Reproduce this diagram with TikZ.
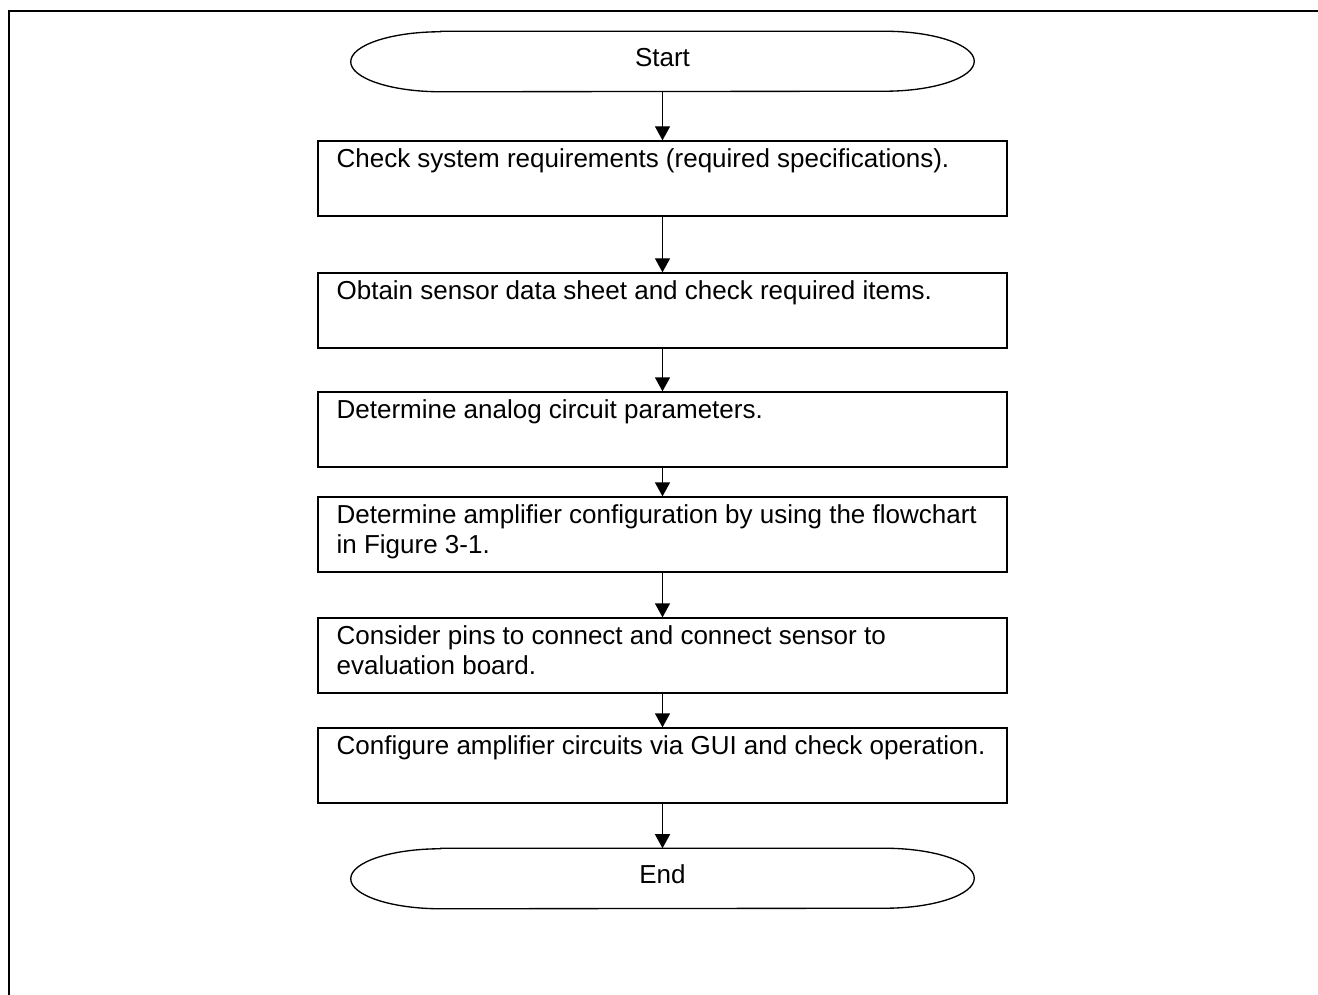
\documentclass[tikz,border=0pt]{standalone}
\usepackage{fontspec}
\setmainfont{Liberation Sans}
\usetikzlibrary{arrows.meta,calc}
\tikzset{
  box/.style={draw, line width=1pt, minimum width=516.75pt, minimum height=56.25pt, inner sep=0pt},
  term/.style={minimum width=467.25pt, minimum height=45pt, inner sep=0pt},
  termline/.style={line width=1pt},
  txt/.style={font=\fontsize{19.5pt}{22.5pt}\selectfont, inner sep=0pt, align=left, anchor=base west},
  ttxt/.style={font=\fontsize{19.5pt}{22.5pt}\selectfont, inner sep=0pt, anchor=base},
  flow/.style={line width=1pt, -{Triangle[width=11.25pt,length=10.5pt]}},
  frame/.style={line width=1.7pt}
}
\begin{document}
\begin{tikzpicture}[x=0.75pt,y=0.75pt]
\useasboundingbox (0,0) rectangle (1318,-995);
% frame
\coordinate (fa) at (1318,-11);
\coordinate (fb) at (9,-11);
\coordinate (fc) at (9,-995);
\draw[frame] (fa) -- (fb) -- (fc);
% terminals
\node[term] (start) at (662.5,-61.5) {};
\node[term] (end) at (662.5,-878.5) {};
\foreach \t in {start,end}{
  \draw[termline] ($(\t.north west)+(90,0)$) -- ($(\t.north east)+(-90,0)$)
    arc[start angle=90, end angle=-90, x radius=67.5pt, y radius=22.5pt]
    -- ($(\t.south west)+(90,0)$)
    arc[start angle=270, end angle=90, x radius=67.5pt, y radius=22.5pt] -- cycle;
}
\node[ttxt] (tstart) at ($(start.center)+(0,-5)$) {Start};
\node[ttxt] (tend) at ($(end.center)+(0,-5)$) {End};
% boxes
\node[box] (b1) at (662.5,-178.5) {};
\node[box] (b2) at (662.5,-310.5) {};
\node[box] (b3) at (662.5,-429.5) {};
\node[box] (b4) at (662.5,-534.5) {};
\node[box] (b5) at (662.5,-655.5) {};
\node[box] (b6) at (662.5,-765.5) {};
\node[txt] (t1) at ($(b1.north west)+(19,-27)$) {Check system requirements (required specifications).};
\node[txt] (t2) at ($(b2.north west)+(19,-27)$) {Obtain sensor data sheet and check required items.};
\node[txt] (t3) at ($(b3.north west)+(19,-27)$) {Determine analog circuit parameters.};
\node[txt] (t4) at ($(b4.north west)+(19,-57)$) {Determine amplifier configuration by using the flowchart\\in Figure 3-1.};
\node[txt] (t5) at ($(b5.north west)+(19,-57)$) {Consider pins to connect and connect sensor to\\evaluation board.};
\node[txt] (t6) at ($(b6.north west)+(19,-27)$) {Configure amplifier circuits via GUI and check operation.};
% connectors
\draw[flow] (start.south) -- (b1.north);
\draw[flow] (b1.south) -- (b2.north);
\draw[flow] (b2.south) -- (b3.north);
\draw[flow] (b3.south) -- (b4.north);
\draw[flow] (b4.south) -- (b5.north);
\draw[flow] (b5.south) -- (b6.north);
\draw[flow] (b6.south) -- (end.north);
\end{tikzpicture}
\end{document}
